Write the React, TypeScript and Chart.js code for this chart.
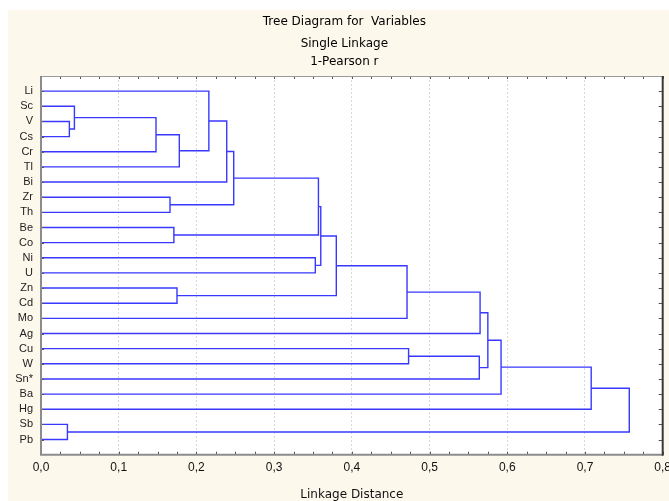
import React, { useEffect, useRef } from "react";
import { Chart, registerables } from "chart.js";

Chart.register(...registerables);

// Leaf order as displayed (top to bottom)
const leafLabels = [
  "Li", "Sc", "V", "Cs", "Cr", "Tl", "Bi", "Zr", "Th", "Be", "Co", "Ni",
  "U", "Zn", "Cd", "Mo", "Ag", "Cu", "W", "Sn*", "Ba", "Hg", "Sb", "Pb",
];

// Linkage: each merge joins node mergeA[i] with mergeB[i] at mergeHeight[i].
// Nodes 0..23 are leaves; merge i creates node 24 + i.
const mergeA = [22, 2, 1, 26, 7, 9, 13, 27, 0, 32, 33, 11, 34, 36, 37, 38, 17, 40, 39, 42, 43, 44, 45];
const mergeB = [23, 3, 25, 4, 8, 10, 14, 5, 31, 6, 28, 12, 29, 35, 30, 15, 18, 19, 16, 41, 20, 21, 24];
const mergeHeight = [
  0.034, 0.0365, 0.043, 0.148, 0.166, 0.171, 0.175, 0.178, 0.216, 0.239, 0.248,
  0.353, 0.357, 0.360, 0.380, 0.471, 0.473, 0.564, 0.565, 0.575, 0.592, 0.708, 0.757,
];

const xTickValues = [0, 0.1, 0.2, 0.3, 0.4, 0.5, 0.6, 0.7, 0.8];

const titleText = "Tree Diagram for  Variables";
const subtitleLines = ["Single Linkage", "1-Pearson r"];
const xAxisTitle = "Linkage Distance";

const LINE_COLOR = "#3838ff";
const CREAM = "#fdf8ec";
const FONT = 'Arial, "Liberation Sans", sans-serif';
const WIDE_FONT = '"DejaVu Sans", Verdana, sans-serif';

function buildDatasets() {
  const nodeX: number[] = leafLabels.map(() => 0);
  const nodeY: number[] = leafLabels.map((_, i) => i);
  const datasets: any[] = [];
  mergeHeight.forEach((h, i) => {
    const a = mergeA[i];
    const b = mergeB[i];
    datasets.push({
      label: "link" + i,
      data: [
        { x: nodeX[a], y: nodeY[a] },
        { x: h, y: nodeY[a] },
        { x: h, y: nodeY[b] },
        { x: nodeX[b], y: nodeY[b] },
      ],
      showLine: true,
      borderColor: LINE_COLOR,
      borderWidth: 1.4,
      pointRadius: 0,
      pointHoverRadius: 0,
      tension: 0,
      fill: false,
    });
    nodeX.push(h);
    nodeY.push((nodeY[a] + nodeY[b]) / 2);
  });
  return datasets;
}

const TITLE_SHIFT = 9;

const framePlugin = {
  id: "framePlugin",
  afterLayout(chart: any) {
    // shift the title blocks slightly right, as in the reference
    (chart.boxes || []).forEach((b: any) => {
      if (b && b.id === undefined && b.options && b.options.text !== undefined && b.options.font) {
        b.left += TITLE_SHIFT;
        b.right += TITLE_SHIFT;
      }
    });
  },
  beforeDraw(chart: any) {
    const { ctx, width, height, chartArea } = chart;
    ctx.save();
    ctx.fillStyle = CREAM;
    ctx.fillRect(0, 0, width, height);
    ctx.fillStyle = "#ffffff";
    ctx.fillRect(chartArea.left, chartArea.top, chartArea.right - chartArea.left, chartArea.bottom - chartArea.top);
    ctx.restore();
  },
  afterDraw(chart: any) {
    const { ctx, chartArea } = chart;
    const { left, right, top, bottom } = chartArea;
    const xs = chart.scales.x;
    const ys = chart.scales.y;
    ctx.save();
    ctx.strokeStyle = "#555555";
    ctx.lineWidth = 1;
    ctx.beginPath();
    for (let k = 0; k <= 32; k++) {
      const v = xs.min + (k * (xs.max - xs.min)) / 32;
      const px = Math.round(xs.getPixelForValue(v)) + 0.5;
      ctx.moveTo(px, top);
      ctx.lineTo(px, top + 3);
      ctx.moveTo(px, bottom);
      ctx.lineTo(px, bottom - 3);
    }
    leafLabels.forEach((_, i) => {
      const py = Math.round(ys.getPixelForValue(i)) + 0.5;
      ctx.moveTo(left, py);
      ctx.lineTo(left + 3, py);
      ctx.moveTo(right, py);
      ctx.lineTo(right - 4, py);
    });
    ctx.stroke();
    ctx.lineWidth = 1;
    ctx.strokeStyle = "#9a9a9a";
    ctx.beginPath();
    ctx.moveTo(left, top + 0.5);
    ctx.lineTo(right, top + 0.5);
    ctx.stroke();
    ctx.lineWidth = 2;
    ctx.strokeStyle = "#8c8c8c";
    ctx.beginPath();
    ctx.moveTo(left, top);
    ctx.lineTo(left, bottom);
    ctx.lineTo(right, bottom);
    ctx.stroke();
    ctx.strokeStyle = "#3a3a3a";
    ctx.beginPath();
    ctx.moveTo(right, top);
    ctx.lineTo(right, bottom + 1);
    ctx.stroke();
    ctx.restore();
  },
};

export default function App() {
  const canvasRef = useRef<HTMLCanvasElement | null>(null);

  useEffect(() => {
    const canvas = canvasRef.current;
    if (!canvas) return;
    const chart = new Chart(canvas, {
      type: "scatter",
      data: { datasets: buildDatasets() },
      plugins: [framePlugin],
      options: {
        animation: false,
        responsive: false,
        maintainAspectRatio: false,
        events: [],
        layout: { padding: { left: 0, right: 6.3, top: 0, bottom: 0 } },
        plugins: {
          legend: { display: false },
          tooltip: { enabled: false },
          title: {
            display: true,
            text: titleText,
            color: "#000000",
            font: { family: WIDE_FONT, size: 12, weight: "normal", lineHeight: 1.2 },
            padding: { top: 5, bottom: 2 },
          },
          subtitle: {
            display: true,
            text: subtitleLines,
            color: "#000000",
            font: { family: WIDE_FONT, size: 12, weight: "normal", lineHeight: 1.5 },
            padding: { top: 3.2, bottom: 5.4 },
          },
        },
        scales: {
          x: {
            type: "linear",
            position: "bottom",
            min: 0,
            max: 0.8,
            afterBuildTicks: (scale: any) => {
              scale.ticks = xTickValues.map((v) => ({ value: v }));
            },
            afterFit: (scale: any) => {
              scale.height = 55.3;
              scale.paddingLeft = 0;
              scale.paddingRight = 0;
            },
            ticks: {
              color: "#111111",
              font: { family: FONT, size: 12 },
              padding: 6,
              maxRotation: 0,
              autoSkip: false,
              callback: (v: any) => Number(v).toFixed(1).replace(".", ","),
            },
            grid: { display: true, drawTicks: false, color: "#d8d8d8", lineWidth: 1 },
            border: { display: false, dash: [2, 2] },
            title: {
              display: true,
              text: xAxisTitle,
              color: "#111111",
              font: { family: WIDE_FONT, size: 12 },
              padding: { top: 0, bottom: 7.8 },
            },
          },
          y: {
            type: "linear",
            position: "left",
            reverse: true,
            min: -1,
            max: 24,
            afterBuildTicks: (scale: any) => {
              scale.ticks = leafLabels.map((_, i) => ({ value: i }));
            },
            afterFit: (scale: any) => {
              scale.width = 33;
            },
            ticks: {
              color: "#222222",
              font: { family: FONT, size: 11 },
              padding: 8,
              autoSkip: false,
              callback: (v: any) => leafLabels[v] ?? "",
            },
            grid: { display: false, drawTicks: false },
            border: { display: false },
          },
        },
      } as any,
    });
    return () => chart.destroy();
  }, []);

  return (
    <div style={{ position: "absolute", left: 8, top: 10, width: 661, height: 491, overflow: "hidden" }}>
      <canvas ref={canvasRef} width={661} height={500} style={{ display: "block", width: 661, height: 500 }} />
    </div>
  );
}
